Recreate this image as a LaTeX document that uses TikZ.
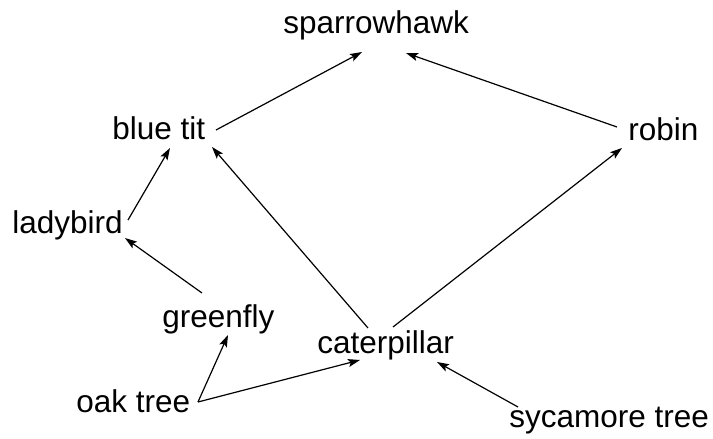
\documentclass[tikz,border=0pt]{standalone}
\usepackage{fontspec}
\setmainfont{Liberation Sans}
\usetikzlibrary{arrows.meta,positioning}

\tikzset{
  organism/.style={anchor=base west, inner sep=0pt, font=\fontsize{15.75}{18}\selectfont},
  feeds/.style={line width=0.6pt, -{Stealth[length=6pt, width=4pt, inset=1.2pt]}}
}

\begin{document}
\begin{tikzpicture}[x=0.5pt, y=-0.5pt]
                \useasboundingbox (0,0) rectangle (713,439);

                % Organisms
                \node[organism] (sh) at (283,33) {sparrowhawk};
                \node[organism] (bt) at (112,139) {blue tit};
                \node[organism] (robin) at (628,140) {robin};
                \node[organism] (lb) at (12,233) {ladybird};
                \node[organism] (gf) at (162,327) {greenfly};
                \node[organism] (cat) at (317,353) {caterpillar};
                \node[organism] (oak) at (76,412) {oak tree};
                \node[organism] (syc) at (509,427) {sycamore tree};

                % Feeding links
                \draw[feeds] ([shift={(104,-9)}]bt.base west) -- ([shift={(79,19)}]sh.base west);
                \draw[feeds] ([shift={(-11,-13)}]robin.base west) -- ([shift={(123,20)}]sh.base west);
                \draw[feeds] ([shift={(51,-25)}]cat.base west) -- ([shift={(100,8)}]bt.base west);
                \draw[feeds] ([shift={(76,-26)}]cat.base west) -- ([shift={(-6,8)}]robin.base west);
                \draw[feeds] ([shift={(116,-13)}]lb.base west) -- ([shift={(58,9)}]bt.base west);
                \draw[feeds] ([shift={(40,-34)}]gf.base west) -- ([shift={(113,5)}]lb.base west);
                \draw[feeds] ([shift={(122,-10)}]oak.base west) -- ([shift={(66,8)}]gf.base west);
                \draw[feeds] ([shift={(122,-10)}]oak.base west) -- ([shift={(43,7)}]cat.base west);
                \draw[feeds] ([shift={(9,-20)}]syc.base west) -- ([shift={(120,9)}]cat.base west);
            \end{tikzpicture}
\end{document}
